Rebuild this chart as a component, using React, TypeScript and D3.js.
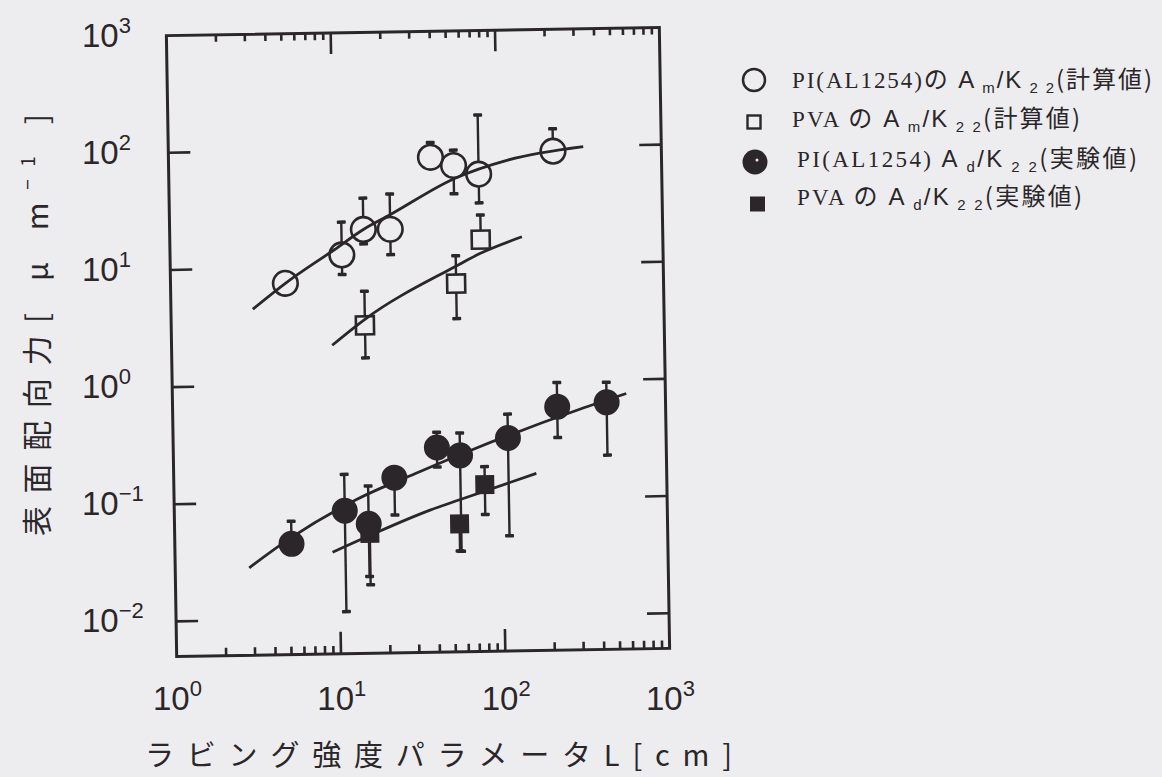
import React, { useEffect, useRef } from 'react';
import * as d3 from 'd3';

// PI(AL1254) Am/K22 calculated (open circles)
const piCalcL = [5.0, 11.1, 15.1, 22.0, 39.3, 54.2, 76.9, 219];
const piCalcV = [7.4, 12.7, 20.8, 20.7, 84, 71, 59.4, 91];
const piCalcHi = [null, 24.3, 38.7, 41.6, 113, 96.6, 191, 142];
const piCalcLo = [null, 8.6, 15.6, 12.5, null, 40.5, 33.6, null];
const piCalcFitL = [3.15, 5.0, 10, 15.1, 22, 54.8, 116, 335];
const piCalcFitV = [4.5, 7.4, 14.1, 20.8, 27.5, 55, 77.6, 98.6];

// PVA Am/K22 calculated (open squares)
const pvaCalcL = [15.1, 54.7, 78];
const pvaCalcV = [3.16, 6.97, 16.4];
const pvaCalcHi = [6.2, 12.1, 26.7];
const pvaCalcLo = [1.66, 3.48, null];
const pvaCalcFitL = [9.5, 15.1, 54.7, 78, 139];
const pvaCalcFitV = [2.16, 3.56, 9.8, 12.6, 17.1];

// PI(AL1254) Ad/K22 measured (filled circles)
const piExpL = [5.13, 10.9, 15.2, 22, 40.2, 55.5, 109, 219, 438];
const piExpV = [0.0442, 0.0833, 0.064, 0.157, 0.28, 0.238, 0.33, 0.6, 0.644];
const piExpHi = [0.0693, 0.171, 0.135, null, 0.38, 0.371, 0.53, 0.97, 0.96];
const piExpLo = [null, 0.0114, 0.0226, 0.075, 0.19, 0.036, 0.048, 0.326, 0.227];
const piExpFitL = [2.82, 5.0, 12.8, 31.4, 66.5, 300, 578];
const piExpFitV = [0.028, 0.049, 0.103, 0.175, 0.266, 0.566, 0.76];

// PVA Ad/K22 measured (filled squares)
const pvaExpL = [15.4, 54.3, 78];
const pvaExpV = [0.053, 0.062, 0.133];
const pvaExpHi = [null, null, 0.19];
const pvaExpLo = [0.0192, 0.0362, 0.0736];
const pvaExpFitL = [9.1, 15.5, 36, 55.2, 161];
const pvaExpFitV = [0.037, 0.051, 0.082, 0.1, 0.163];

const xTickLabels = [['10', '0'], ['10', '1'], ['10', '2'], ['10', '3']];
const xTickValues = [1, 10, 100, 1000];
const yTickLabels = [['10', '3'], ['10', '2'], ['10', '1'], ['10', '0'], ['10', '\u22121'], ['10', '\u22122']];
const yTickValues = [1000, 100, 10, 1, 0.1, 0.01];

const legendMarks = ['openCircle', 'openSquare', 'dot', 'block'];
const legendParts = [
  [['PI(AL1254)', 'serif'], ['の', 'jp'], [' A', 'sans'], [' m', 'sub'], ['/K', 'sans'], [' 2 2', 'sub'], ['(計算値)', 'jp']],
  [['PVA ', 'serif'], ['の', 'jp'], [' A', 'sans'], [' m', 'sub'], ['/K', 'sans'], [' 2 2', 'sub'], ['(計算値)', 'jp']],
  [['PI(AL1254)  ', 'serif'], ['A', 'sans'], [' d', 'sub'], ['/K', 'sans'], [' 2 2', 'sub'], ['(実験値)', 'jp']],
  [['PVA ', 'serif'], ['の', 'jp'], [' A', 'sans'], [' d', 'sub'], ['/K', 'sans'], [' 2 2', 'sub'], ['(実験値)', 'jp']],
];
const legendWidths = [360, 288, 340, 285];

const W = 1162;
const H = 777;
const PAPER = '#ededf0';
const INK = '#2a2629';
const JP = '"Noto Sans CJK JP", sans-serif';
const SANS = '"Liberation Sans", Arial, sans-serif';
const SERIF = '"Liberation Serif", "Times New Roman", serif';

const createGraph = (node: SVGSVGElement) => {
  const svg = d3.select(node);
  svg.selectAll('*').remove();

  svg.append('rect').attr('width', W).attr('height', H).attr('fill', PAPER);

  const x0 = 171.5, x1 = 664.5, y0 = 31.5, y1 = 652.5;
  const x = d3.scaleLog().domain([1, 1000]).range([x0, x1]);
  const y = d3.scaleLog().domain([Math.pow(10, -2.3), 1000]).range([y1, y0]);

  // the scanned figure sits slightly rotated
  const plot = svg.append('g')
    .attr('transform', `rotate(-0.95, ${(x0 + x1) / 2}, ${(y0 + y1) / 2})`);

  plot.append('rect')
    .attr('x', x0).attr('y', y0)
    .attr('width', x1 - x0).attr('height', y1 - y0)
    .attr('fill', 'none')
    .attr('stroke', INK)
    .attr('stroke-width', 3);

  // x ticks, top and bottom
  const xt = x.ticks().filter(d => d > 1 && d < 1000);
  const isMajor = (d: number) => Math.abs(Math.log10(d) - Math.round(Math.log10(d))) < 1e-6;
  plot.selectAll('.xtickb')
    .data(xt)
    .enter()
    .append('line')
    .attr('x1', d => x(d)).attr('x2', d => x(d))
    .attr('y1', y1).attr('y2', d => y1 - (isMajor(d) ? 22 : 8))
    .attr('stroke', INK).attr('stroke-width', 2.6);
  plot.selectAll('.xtickt')
    .data(xt)
    .enter()
    .append('line')
    .attr('x1', d => x(d)).attr('x2', d => x(d))
    .attr('y1', y0).attr('y2', d => y0 + (isMajor(d) ? 21 : 7))
    .attr('stroke', INK).attr('stroke-width', 2.6);

  // y ticks, left and right (majors only)
  const yt = yTickValues.filter(d => d < 1000);
  plot.selectAll('.ytickl')
    .data(yt)
    .enter()
    .append('line')
    .attr('x1', x0).attr('x2', x0 + 22)
    .attr('y1', d => y(d)).attr('y2', d => y(d))
    .attr('stroke', INK).attr('stroke-width', 2.6);
  plot.selectAll('.ytickr')
    .data(yt)
    .enter()
    .append('line')
    .attr('x1', x1).attr('x2', x1 - 22)
    .attr('y1', d => y(d)).attr('y2', d => y(d))
    .attr('stroke', INK).attr('stroke-width', 2.6);

  // fitted curves
  const line = d3.line<[number, number]>()
    .x(d => x(d[0]))
    .y(d => y(d[1]))
    .curve(d3.curveMonotoneX);
  const fits = [
    [piCalcFitL, piCalcFitV],
    [pvaCalcFitL, pvaCalcFitV],
    [piExpFitL, piExpFitV],
    [pvaExpFitL, pvaExpFitV],
  ];
  plot.selectAll('.fit')
    .data(fits)
    .enter()
    .append('path')
    .attr('d', d => line(d[0].map((l, i) => [l, d[1][i]] as [number, number])))
    .attr('fill', 'none')
    .attr('stroke', INK)
    .attr('stroke-width', 2.8);

  const errorBars = (L: number[], V: number[], hi: (number | null)[], lo: (number | null)[], gap: number) => {
    const idx = d3.range(L.length);
    const up = idx.filter(i => hi[i] != null);
    const dn = idx.filter(i => lo[i] != null);
    const g = plot.append('g').attr('stroke', INK).attr('fill', INK);
    g.selectAll('.eu')
      .data(up)
      .enter()
      .append('line')
      .attr('x1', i => x(L[i])).attr('x2', i => x(L[i]))
      .attr('y1', i => y(hi[i] as number)).attr('y2', i => y(V[i]) - gap)
      .attr('stroke-width', 2.4);
    g.selectAll('.ed')
      .data(dn)
      .enter()
      .append('line')
      .attr('x1', i => x(L[i])).attr('x2', i => x(L[i]))
      .attr('y1', i => y(V[i]) + gap).attr('y2', i => y(lo[i] as number))
      .attr('stroke-width', 2.4);
    g.selectAll('.cu')
      .data(up)
      .enter()
      .append('rect')
      .attr('x', i => x(L[i]) - 4.5).attr('y', i => y(hi[i] as number) - 1.5)
      .attr('width', 9).attr('height', 3.5).attr('rx', 1)
      .attr('stroke', 'none');
    g.selectAll('.cd')
      .data(dn)
      .enter()
      .append('rect')
      .attr('x', i => x(L[i]) - 4.5).attr('y', i => y(lo[i] as number) - 2)
      .attr('width', 9).attr('height', 3.5).attr('rx', 1)
      .attr('stroke', 'none');
  };

  errorBars(piCalcL, piCalcV, piCalcHi, piCalcLo, 12.5);
  errorBars(pvaCalcL, pvaCalcV, pvaCalcHi, pvaCalcLo, 9);
  errorBars(piExpL, piExpV, piExpHi, piExpLo, 0);
  errorBars(pvaExpL, pvaExpV, pvaExpHi, pvaExpLo, 0);

  // markers
  plot.selectAll('.pvaexp')
    .data(d3.range(pvaExpL.length))
    .enter()
    .append('rect')
    .attr('x', i => x(pvaExpL[i]) - 9.5).attr('y', i => y(pvaExpV[i]) - 9.5)
    .attr('width', 19).attr('height', 19)
    .attr('fill', INK);
  plot.selectAll('.piexp')
    .data(d3.range(piExpL.length))
    .enter()
    .append('circle')
    .attr('cx', i => x(piExpL[i])).attr('cy', i => y(piExpV[i]))
    .attr('r', 13)
    .attr('fill', INK);
  plot.selectAll('.pvacalc')
    .data(d3.range(pvaCalcL.length))
    .enter()
    .append('rect')
    .attr('x', i => x(pvaCalcL[i]) - 9).attr('y', i => y(pvaCalcV[i]) - 9)
    .attr('width', 18).attr('height', 18)
    .attr('fill', 'none')
    .attr('stroke', INK).attr('stroke-width', 2.6);
  plot.selectAll('.picalc')
    .data(d3.range(piCalcL.length))
    .enter()
    .append('circle')
    .attr('cx', i => x(piCalcL[i])).attr('cy', i => y(piCalcV[i]))
    .attr('r', 12.3)
    .attr('fill', 'none')
    .attr('stroke', INK).attr('stroke-width', 2.6);

  // tick labels (not rotated with the frame)
  const yl = svg.selectAll('.ylab')
    .data(d3.range(yTickValues.length))
    .enter()
    .append('text')
    .attr('x', 82)
    .attr('y', i => y(yTickValues[i]) + 15)
    .attr('font-family', SANS)
    .attr('font-size', 33)
    .attr('fill', INK);
  yl.append('tspan').text(i => yTickLabels[i][0]);
  yl.append('tspan').attr('dy', -14).attr('font-size', 22).text(i => yTickLabels[i][1]);

  const xl = svg.selectAll('.xlab')
    .data(d3.range(xTickValues.length))
    .enter()
    .append('text')
    .attr('x', i => x(xTickValues[i]) + 6)
    .attr('y', 710)
    .attr('text-anchor', 'middle')
    .attr('font-family', SANS)
    .attr('font-size', 33)
    .attr('fill', INK);
  xl.append('tspan').text(i => xTickLabels[i][0]);
  xl.append('tspan').attr('dy', -14).attr('font-size', 22).text(i => xTickLabels[i][1]);

  // axis titles
  svg.append('text')
    .attr('x', 145)
    .attr('y', 766)
    .attr('font-family', JP)
    .attr('font-size', 29)
    .attr('fill', INK)
    .attr('textLength', 587)
    .attr('lengthAdjust', 'spacing')
    .text('ラビング強度パラメータL[cm]');

  const yTitle = svg.append('text')
    .attr('transform', 'translate(48, 536) rotate(-90)')
    .attr('font-family', JP)
    .attr('font-size', 30)
    .attr('fill', INK)
    .attr('textLength', 422)
    .attr('lengthAdjust', 'spacing');
  yTitle.append('tspan').text('表面配向力[ μ m');
  yTitle.append('tspan').attr('dy', -13).attr('font-size', 19).text('\u22121');
  yTitle.append('tspan').attr('dy', 13).text(' ]');

  // legend
  const legX = 754;
  const rowY = [80, 122, 162, 204];
  const textX = [792, 792, 797, 797];
  const baseY = [88, 127, 167, 205];
  legendMarks.forEach((m, i) => {
    if (m === 'openCircle') {
      svg.append('circle').attr('cx', legX).attr('cy', rowY[i]).attr('r', 11)
        .attr('fill', 'none').attr('stroke', INK).attr('stroke-width', 2.5);
    } else if (m === 'openSquare') {
      svg.append('rect').attr('x', legX - 6.5).attr('y', rowY[i] - 6.5).attr('width', 13).attr('height', 13)
        .attr('fill', 'none').attr('stroke', INK).attr('stroke-width', 2.4);
    } else if (m === 'dot') {
      svg.append('circle').attr('cx', legX + 1).attr('cy', rowY[i]).attr('r', 12.5).attr('fill', INK);
      svg.append('circle').attr('cx', legX + 3).attr('cy', rowY[i] - 2).attr('r', 1.5).attr('fill', PAPER);
    } else {
      svg.append('rect').attr('x', legX - 4).attr('y', rowY[i] - 7.5).attr('width', 15).attr('height', 15)
        .attr('fill', INK);
    }
    const t = svg.append('text')
      .attr('x', textX[i])
      .attr('y', baseY[i])
      .attr('font-size', 23)
      .attr('fill', INK)
      .attr('textLength', legendWidths[i])
      .attr('lengthAdjust', 'spacing');
    let shifted = false;
    legendParts[i].forEach(([txt, kind]) => {
      const sp = t.append('tspan').text(txt);
      if (kind === 'sub') {
        sp.attr('font-family', SANS).attr('font-size', 15);
        if (!shifted) { sp.attr('dy', 5); shifted = true; }
      } else {
        if (shifted) { sp.attr('dy', -5); shifted = false; }
        sp.attr('font-family', kind === 'serif' ? SERIF : kind === 'jp' ? JP : SANS);
        if (kind === 'sans') sp.attr('font-size', 24);
        if (kind === 'jp') sp.attr('font-size', 24);
      }
    });
  });
};

export default function App() {
  const ref = useRef<SVGSVGElement | null>(null);

  useEffect(() => {
    if (ref.current) createGraph(ref.current);
  }, []);

  return (
    <svg
      ref={ref}
      width={W}
      height={H}
      viewBox={`0 0 ${W} ${H}`}
      style={{ position: 'absolute', left: 0, top: 0, display: 'block' }}
    />
  );
}
